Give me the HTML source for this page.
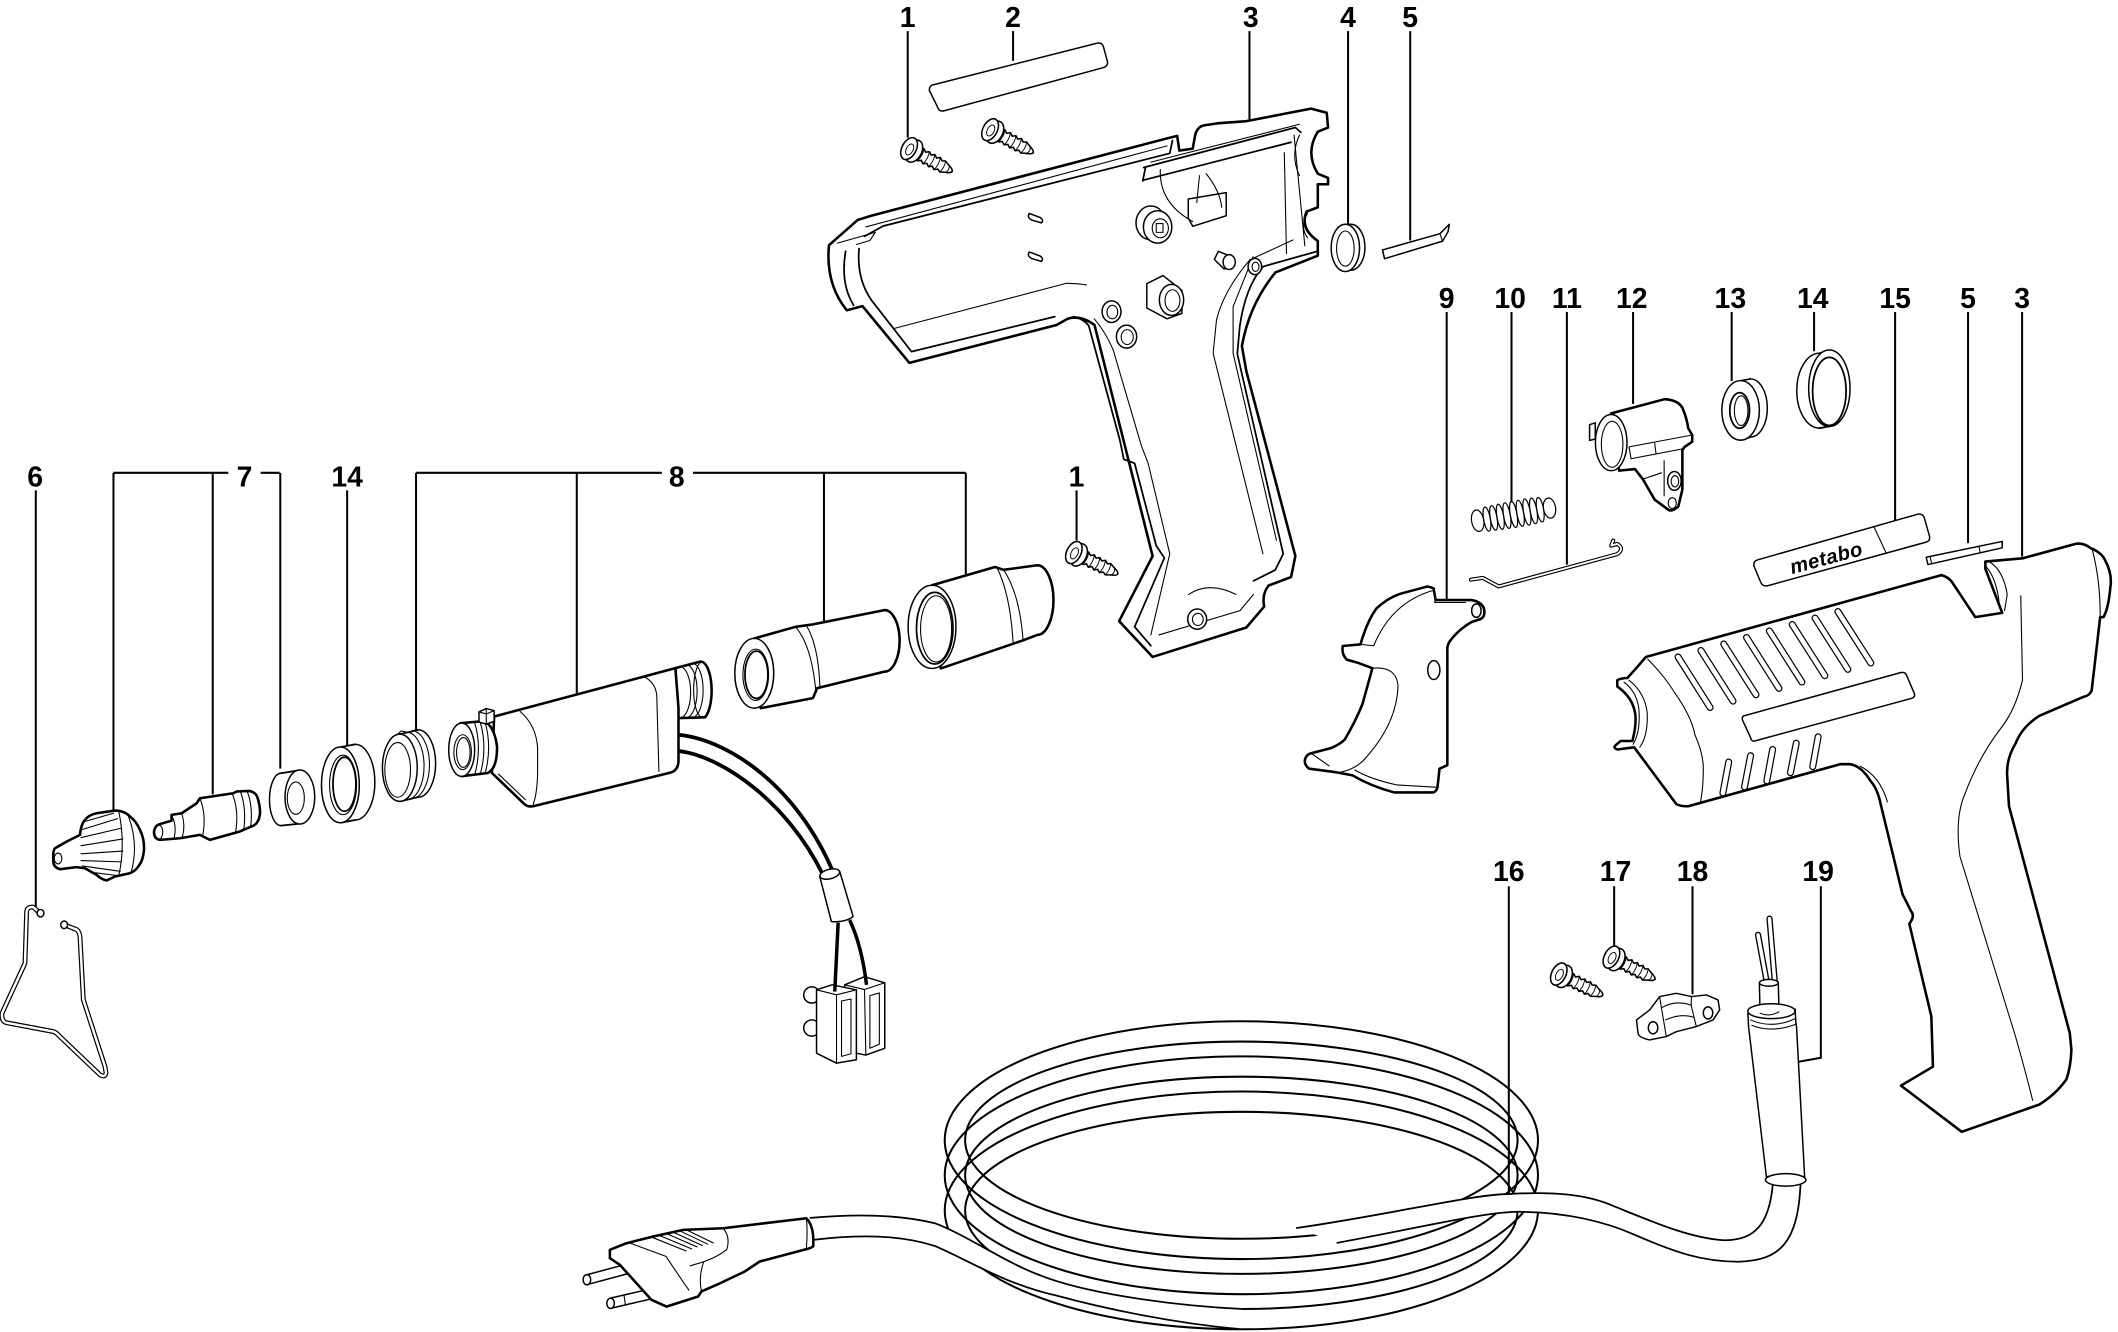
<!DOCTYPE html>
<html><head><meta charset="utf-8"><style>html,body{margin:0;padding:0;background:#fff}svg{display:block}
.k{fill:#fff;stroke:#000;stroke-width:1.9;stroke-linejoin:round;stroke-linecap:round}
.kt{fill:#fff;stroke:#000;stroke-width:1.1;stroke-linejoin:round}
.t{fill:none;stroke:#000;stroke-width:0.8;stroke-linejoin:round;stroke-linecap:round}
.m{fill:none;stroke:#000;stroke-width:1.3;stroke-linejoin:round;stroke-linecap:round}
.n{fill:none;stroke:#000;stroke-width:1.9;stroke-linejoin:round;stroke-linecap:round}
.ld{fill:none;stroke:#000;stroke-width:1.5}
.lb{font-family:"Liberation Sans",Arial,sans-serif;font-weight:bold;font-size:21px;text-anchor:middle;fill:#000}
</style></head><body>
<svg width="2118" height="1332" viewBox="0 0 1568 986" preserveAspectRatio="none" xmlns="http://www.w3.org/2000/svg">
<defs>
<g id="screw">
<path d="M6,-3.4 L8.5,-4.4 L10.5,-3 L12.5,-4.4 L14.5,-3 L16.5,-4.4 L18.5,-3 L20.5,-4.4 L22.5,-3 L24.5,-4 L27.5,-2.6 Q31,-1.6 31.5,0 Q31,1.6 27.5,2.6 L24.5,4 L22.5,3 L20.5,4.4 L18.5,3 L16.5,4.4 L14.5,3 L12.5,4.4 L10.5,3 L8.5,4.4 L6,3.4 Z" fill="#fff" stroke="#000" stroke-width="1"/>
<path d="M8.5,-4.4 Q10,0 8.5,4.4 M12.5,-4.4 Q14,0 12.5,4.4 M16.5,-4.4 Q18,0 16.5,4.4 M20.5,-4.4 Q22,0 20.5,4.4 M24.5,-4 Q26,0 24.5,4 M28,-2.4 Q29.5,0 28,2.4" fill="none" stroke="#000" stroke-width="0.6"/>
<ellipse cx="3.5" cy="0" rx="5" ry="7.6" fill="#fff" stroke="#000" stroke-width="1"/>
<ellipse cx="0" cy="0" rx="4.6" ry="7.6" fill="#fff" stroke="#000" stroke-width="1"/>
<ellipse cx="0.6" cy="0.3" rx="2.2" ry="3.8" fill="none" stroke="#000" stroke-width="0.6"/>
</g>
</defs>

<!-- ===== LABELS ===== -->
<g>
<text class="lb" x="672" y="20">1</text>
<text class="lb" x="750" y="20">2</text>
<text class="lb" x="926" y="20">3</text>
<text class="lb" x="998" y="20">4</text>
<text class="lb" x="1044" y="20">5</text>
<text class="lb" x="26" y="360">6</text>
<text class="lb" x="181" y="360">7</text>
<text class="lb" x="257" y="360">14</text>
<text class="lb" x="501" y="360">8</text>
<text class="lb" x="797" y="360">1</text>
<text class="lb" x="1071" y="228">9</text>
<text class="lb" x="1118" y="228">10</text>
<text class="lb" x="1160" y="228">11</text>
<text class="lb" x="1208" y="228">12</text>
<text class="lb" x="1281" y="228">13</text>
<text class="lb" x="1342" y="228">14</text>
<text class="lb" x="1403" y="228">15</text>
<text class="lb" x="1457" y="228">5</text>
<text class="lb" x="1497" y="228">3</text>
<text class="lb" x="1117" y="652">16</text>
<text class="lb" x="1196" y="652">17</text>
<text class="lb" x="1253" y="652">18</text>
<text class="lb" x="1346" y="652">19</text>
</g>
<g class="ld">
<path d="M672,23 V102"/>
<path d="M750,23 V45"/>
<path d="M925,23 V89"/>
<path d="M998,23 V166"/>
<path d="M1044,23 V178"/>
<path d="M26.5,363 V671"/>
<path d="M84,350 H169 M193,350 H207 M84,350 V601 M157.5,350 V588 M207.5,350 V569"/>
<path d="M257,363 V553"/>
<path d="M308,350 H490 M513,350 H715 M308,350 V541 M427,350 V514 M610,350 V461 M715,350 V425"/>
<path d="M797,363 V400"/>
<path d="M1071,231 V444"/>
<path d="M1119,231 V372"/>
<path d="M1160,231 V418"/>
<path d="M1209,231 V299"/>
<path d="M1282,231 V282"/>
<path d="M1343,231 V260"/>
<path d="M1403,231 V386"/>
<path d="M1457,231 V402"/>
<path d="M1497,231 V412"/>
<path d="M1117,656 V884"/>
<path d="M1195,656 V700"/>
<path d="M1253,656 V736"/>
<path d="M1348,656 V783 L1331,786"/>
</g>

<!-- ===== TOP: part 2 label strip ===== -->
<path class="kt" d="M690,63 L812,32 Q816,31 817,35 L820,46 Q820,49 817,50 L699,82 Q695,83 694,79 L688,67 Q688,64 690,63 Z"/>

<!-- screws top -->
<use href="#screw" transform="translate(673,110) rotate(28) scale(1.15)"/>
<use href="#screw" transform="translate(733,96) rotate(28) scale(1.15)"/>

<!-- ===== TOP HOUSING (part 3 left half) ===== -->
<path class="k" stroke-width="2.2" d="M613.7,181.5 L635,162.8 L645,159.7 L864.9,102.2 L871.5,100.6 L873.1,111.5 L883,110 L884.7,100.6 Q886,94 891.3,92.8 L901.2,91.3 L922.7,89.7 L970.6,80.4 L982.2,83.5 L983.2,94.4 L975.6,97.5 Q966,113 975.6,128.6 L983.2,131.7 L983.2,136.4 L975.6,136.4 L975.6,153.5 L967.3,156.6 Q962,169 975.6,178.4 L975.6,189.3 L944.2,201.7 Q925,225 919.4,256.1 L922.7,274.8 L959,411.6 L955.8,427.2 L939.2,433.4 Q934,440 935.9,449 L922.7,464.5 L853.3,486.3 L828.5,459.8 L853.3,411.6 L810.3,240.6 Q800,233 790.5,235.9 L782.2,240.6 L673.2,268.6 L638.5,226.6 L626.9,229.7 Q611,210 613.7,181.5 Z"/>
<!-- inner wall lines -->
<path class="m" stroke-width="1.6" d="M640,175 L653.9,167.3 L866,113.5 L868,104"/>
<path class="t" d="M641,168 L864,108"/>
<path class="m" d="M626,186 Q622,210 632,226 M636,184 Q634,206 645,222 L674.8,260.3 L780.9,234.4"/>
<path class="t" d="M662.5,243 L789.6,209.7 Q800,210 804.4,210.9"/>
<path class="t" d="M620,180 L648,172 L644,178 L634,181"/>
<path class="m" stroke-width="1.5" d="M794.5,234.4 Q802,236 806,241 L829,325.6 L832,340 L840,343 L856,404 L862,413 L840,464 L852,478"/>
<path class="t" d="M810,236 Q818,245 824.1,259 L845,330 L850,343 L866,410 L852,470"/>
<path class="m" stroke-width="1.5" d="M974.6,186.2 L935.1,197.3 Q922,212 917.8,241.8 L916,262 L950,410 L944,422 L928,430"/>
<path class="t" d="M957.3,177.6 L925.2,192.4 Q906,215 900.6,236.8 L898.1,261.5 L935,410"/>
<path class="t" d="M927.7,190 L912.9,227 L912.9,261.5 L945,400"/>
<path class="t" d="M858,470 L918,452 L928,440 M880,440 Q895,430 915,440"/>
<!-- internal ribs top right -->
<path class="m" d="M846.7,124 L959,94.4 L963,98 M846.7,133.3 L955.8,105.3 M848,124 L846,134"/>
<path class="t" d="M852,120 L962,92 M950.8,113 L952.4,187.7 M958,100 L966,182"/>
<path class="kt" d="M879.7,147.3 L907.8,142.6 L907.8,159.7 L883,167.5 L879.7,161.3 Z"/>
<path class="t" d="M859,125.5 Q858,150.4 883,164 M893,128.6 Q903,141 904.5,153.5 M888,130 L886,150"/>
<path class="t" d="M962,100 Q955,115 962,130 M968,158 Q962,168 968,176"/>
<!-- bosses -->
<ellipse class="kt" cx="852" cy="165" rx="11" ry="12.5"/>
<ellipse class="kt" cx="857" cy="168" rx="10.5" ry="12"/>
<ellipse class="t" cx="859" cy="169" rx="6" ry="7"/>
<rect class="t" x="856" y="165.5" width="5" height="6.5"/>
<path class="kt" d="M849,210 L861,204 L875,215 L875,232 L864,236 L849,228 Z"/>
<ellipse class="kt" cx="867.3" cy="222" rx="9" ry="11.5"/>
<ellipse class="t" cx="868" cy="222.5" rx="5.5" ry="8"/>
<ellipse class="kt" cx="822.9" cy="230.7" rx="7" ry="8"/>
<ellipse class="t" cx="823.5" cy="231" rx="4" ry="5"/>
<ellipse class="kt" cx="834" cy="249.2" rx="7.5" ry="8.5"/>
<ellipse class="t" cx="834.5" cy="249.5" rx="4.5" ry="5.5"/>
<path class="kt" d="M902,186 L911.7,190 L913,198 L906,199 L899,192 Z"/>
<ellipse class="kt" cx="910" cy="194" rx="4.5" ry="5.5"/>
<ellipse class="kt" cx="929" cy="197.3" rx="5" ry="6"/>
<ellipse class="t" cx="929.5" cy="197.5" rx="2.6" ry="3.4"/>
<path class="kt" d="M762,158 L770,161 Q773,163 771,165 L764,163 Q760,161 762,158 Z"/>
<path class="kt" d="M762,186.5 L770,189.5 Q773,191.5 771,193.5 L764,191.5 Q760,189.5 762,186.5 Z"/>
<ellipse class="kt" cx="886.3" cy="458.3" rx="7" ry="7.5"/>
<ellipse class="t" cx="886.8" cy="458.5" rx="4" ry="4.5"/>

<!-- part 4 ring -->
<ellipse class="kt" cx="1000" cy="183" rx="10.5" ry="17"/>
<path fill="#fff" stroke="none" d="M996,166 L1000,166 L1000,200 L996,200.5 Z"/>
<path class="t" d="M996,166 L1000,166 M996,200.5 L1000,200"/>
<ellipse class="kt" cx="996" cy="183.5" rx="10.5" ry="17.5"/>
<ellipse class="t" cx="996" cy="184" rx="6.5" ry="13"/>
<!-- part 5 top -->
<path class="kt" d="M1023.5,185 L1066,173 L1073,166 L1072,171.5 L1068,178.5 L1025,191.5 Z"/>
<path class="t" d="M1023.5,185 L1025,191.5 M1066,173 L1068,178.5"/>

<!-- ===== LEFT: part 6 wire frame ===== -->
<path d="M29.6,676 L24.7,671.5 Q20,671 19.7,675 L18.5,713 L1.5,750 Q1,756 4.5,757 L39.5,763.6 Q42,764.5 44,767 L74,795.6 Q78,798 78.5,794 L77.7,789.5 L61.7,740.1 L59.2,693.3 Q58.5,688 55,687.5 L48.1,684.6" fill="none" stroke="#000" stroke-width="3.6" stroke-linejoin="round" stroke-linecap="round"/>
<path d="M29.6,676 L24.7,671.5 Q20,671 19.7,675 L18.5,713 L1.5,750 Q1,756 4.5,757 L39.5,763.6 Q42,764.5 44,767 L74,795.6 Q78,798 78.5,794 L77.7,789.5 L61.7,740.1 L59.2,693.3 Q58.5,688 55,687.5 L48.1,684.6" fill="none" stroke="#fff" stroke-width="1.8" stroke-linejoin="round" stroke-linecap="round"/>
<ellipse class="kt" cx="30" cy="676" rx="2.5" ry="2.8"/>
<ellipse class="kt" cx="47.5" cy="684.6" rx="2.5" ry="2.8"/>

<!-- part 7a nozzle -->
<path class="k" stroke-width="1.6" d="M40.7,627.9 L49.3,623 L59.2,618 Q60,610 62.9,606.9 Q66,603 71.5,602 L85.1,600 Q92,600 96.2,604.4 Q101,608 103.6,614.3 Q107,621 106.6,629.1 Q106,637 102.4,641.4 Q100,645 96.2,646.4 L85.1,648.8 L78.9,651.8 Q75,651 71.5,647.6 L62.9,642.7 L56.7,641.9 L44.4,643.4 Q39,642 39.5,636.5 Q39,630 40.7,627.9 Z"/>
<ellipse class="t" cx="43" cy="635.5" rx="2.8" ry="4"/>
<path class="t" d="M95,604 Q103,625 97,646 M88,601 Q93,625 88,648"/>
<path class="t" d="M63,608 L84,602 M61,614 L87,606 M60,620 L90,613 M60,626 L91,621 M60,632 L91,630 M60,637 L90,638 M61,641 L89,645 M70,646 L86,648"/>
<!-- part 7b -->
<path class="k" stroke-width="1.6" d="M118.4,610 L127,607.5 L127,603.2 L134.5,602 L145.6,594.6 L148,590.9 L172.7,587.2 L175.2,585.9 L184,585.5 Q189,586 190.5,590 Q193,598 192.4,603 Q191.5,609 188,611 L177.6,615.5 L155.4,621.7 L148,618 L133.2,620.5 L118.4,621.7 Q114,621 114,616 Q114.5,611 118.4,610 Z"/>
<ellipse class="t" cx="117.5" cy="616" rx="3" ry="5.2"/>
<path class="t" d="M127,603.5 Q131,611 129,619.8 M134.5,602 Q137.5,611 135,619.5 M148,591 Q153,603 150,619 M172,587.5 Q177,600 174.5,615.5 M178,586 Q182.5,598 180.5,614 M183,585.8 Q187.5,597 185.5,612.5"/>

<!-- part 7c ring -->
<ellipse class="kt" cx="208" cy="591.8" rx="8.5" ry="19.4"/>
<path fill="#fff" stroke="none" d="M208,572.4 L221.5,570 L221.5,610 L208,611.2 Z"/>
<path class="m" d="M208,572.4 L221.5,570.2 M208,611.2 L221.5,609.8"/>
<ellipse class="kt" cx="222" cy="590" rx="11" ry="20" stroke-width="1.5"/>
<ellipse class="t" cx="219" cy="590.8" rx="6.3" ry="12"/>

<!-- part 14 left ring -->
<ellipse class="kt" cx="263" cy="579" rx="14.5" ry="28" stroke-width="1.5"/>
<path fill="#fff" stroke="none" d="M252,553 L263,551 L263,607 L252,609 Z"/>
<path class="m" d="M252,553 L263,551 M252,609 L263,607"/>
<ellipse class="kt" cx="252" cy="581" rx="14" ry="28" stroke-width="1.6"/>
<ellipse class="t" cx="254" cy="581" rx="10" ry="22"/>
<ellipse class="m" cx="255" cy="580.5" rx="8.5" ry="20"/>

<!-- part 8a threaded ring -->
<ellipse class="kt" cx="309.6" cy="565.2" rx="12.9" ry="24.9" stroke-width="1.5"/>
<path fill="#fff" stroke="none" d="M296,543.4 L309.6,540.3 L309.6,590.1 L296,593.2 Z"/>
<path class="m" d="M296,543.4 L309.6,540.3 M296,593.2 L309.6,590.1"/>
<path class="t" d="M301,542 A12.9,24.9 0 0 1 301,592 M305,541 A12.9,24.9 0 0 1 305,591"/>
<ellipse class="kt" cx="296" cy="568.3" rx="12.9" ry="24.9" stroke-width="1.5"/>
<ellipse class="t" cx="294.4" cy="569.9" rx="9.5" ry="20.2"/>
<path class="t" d="M294,544 L297,541 L301,542"/>

<!-- ===== ELEMENT part 8 ===== -->
<path class="k" stroke-width="1.6" d="M500,494.6 L518.3,489.8 A8,21.5 0 0 1 522,531 L502.3,531.6 Z"/>
<path class="t" d="M504,493.5 A8,19 0 0 1 505,531 M509,492.2 A8,19.5 0 0 1 510,530.5 M513,491 A8,20 0 0 1 515,530"/>
<ellipse class="t" cx="520" cy="510.5" rx="6.5" ry="20.5"/>
<path class="k" stroke-width="1.6" d="M365.8,530.4 L500,494.6 L502.3,524 L502.3,563.6 Q502,570.5 496,572 L394.7,596.8 Q390.5,597.5 388,595 L364.2,572.2 Z"/>
<path class="t" d="M385.1,526.7 Q397,537 398,553.7 L398,573.4 Q397.5,588 394.7,595.5"/>
<path class="t" d="M476.6,500.8 Q485,505 486.2,514.4 L487.8,571"/>
<path class="t" d="M369,573 L389,592"/>
<path class="k" stroke-width="1.6" d="M341,535.3 L358,533.8 Q366,537 368,553 Q368,569 361,572.2 L341.8,574.6 Z"/>
<path class="t" d="M351.4,535 Q357,553 351.4,574 M355.5,534.5 Q361,553 355.5,573.5 M359,534 Q364.5,553 359,573"/>
<ellipse class="kt" cx="341.8" cy="555" rx="9.6" ry="19.7" stroke-width="1.5"/>
<ellipse class="t" cx="342.5" cy="556.8" rx="6.5" ry="12.9"/>
<ellipse class="t" cx="343" cy="557" rx="5" ry="11"/>
<path class="kt" d="M354.6,527 L360,524.5 L365.8,526 L365.8,534 L360,536 L354.6,534.5 Z"/>
<path class="t" d="M360,524.5 L360,536 M354.6,527 L360,528.5 L365.8,526"/>

<!-- wires -->
<path d="M503,544 C540,548 590,582 617,646" fill="none" stroke="#000" stroke-width="2.8"/>
<path d="M503,556 C535,560 583,594 609,647" fill="none" stroke="#000" stroke-width="2.8"/>
<!-- connectors bumps -->
<circle class="kt" cx="601" cy="736.5" r="6"/>
<circle class="kt" cx="601" cy="761" r="6"/>
<!-- right block -->
<path class="kt" d="M625.4,729 L640,723 L655,727.5 L655,776 L641,781 L625.4,778 Z" stroke-width="1.3"/>
<path class="t" d="M640,732.5 L655,727.5 M640,732.5 L641,781 M625.4,729 L640,732.5"/>
<!-- left block -->
<path class="kt" d="M604.5,732.7 L616,729 L634,732.7 L634,784.5 L619.3,787 L604.5,779.6 Z" stroke-width="1.3"/>
<path class="t" d="M604.5,732.7 L619.3,736.4 L634,732.7 M619.3,736.4 L619.3,787"/>
<path class="t" d="M623,741 L630,739.5 L630,780 L623,782 Z"/>
<path class="t" d="M644,737 L651,735 L651,773 L644,776 Z"/>
<!-- wires from ferrule to blocks -->
<path d="M620.5,683 L618,734" fill="none" stroke="#000" stroke-width="2.6"/>
<path d="M629,681 Q638,700 641.5,729" fill="none" stroke="#000" stroke-width="2.6"/>
<!-- ferrule -->
<path class="kt" d="M606.9,648.9 L621.7,645.2 L631.6,678.5 Q626,683 615.5,682.2 Z" stroke-width="1.2"/>
<ellipse class="kt" cx="614.3" cy="647" rx="7.5" ry="3.5" transform="rotate(-14 614.3 647)"/>

<!-- ===== SLEEVES part 8 ===== -->
<path class="k" stroke-width="1.6" d="M558.4,472.6 L589,464 L601.8,462.2 L654.8,451.6 A11.2,22.8 0 0 1 654.8,497.2 L605,509.4 L601.8,516.8 L563.2,524.2 Z"/>
<path class="t" d="M589,464 Q601,478 604,512 M597,463 Q606,478 607,509"/>
<ellipse class="kt" cx="558.4" cy="498.4" rx="14.4" ry="25.8" stroke-width="1.6"/>
<ellipse class="t" cx="559.5" cy="499.5" rx="9.5" ry="19"/>
<ellipse class="m" cx="560" cy="499.5" rx="8.5" ry="17.5"/>

<path class="k" stroke-width="1.6" d="M690,433.2 L736.6,419.7 L743,421.8 L767.9,418.4 A12,25.8 0 0 1 767.9,470 L757.5,474 L696.5,494.8 Z"/>
<path class="t" d="M743,421.8 Q755,440 757.4,474 M738,420 Q748,440 750,476"/>
<ellipse class="kt" cx="690" cy="464" rx="17.7" ry="30.8" stroke-width="1.6"/>
<ellipse class="m" cx="692" cy="465" rx="13.5" ry="26.5"/>
<ellipse class="t" cx="693" cy="465.5" rx="11.5" ry="24.5"/>

<!-- screw middle 1 -->
<use href="#screw" transform="translate(795,409) rotate(26) scale(1.15)"/>

<!-- ===== TRIGGER part 9 ===== -->
<path class="k" stroke-width="1.8" d="M994.1,478.2 L1007.2,477 Q1012,460 1018.9,450.5 Q1028,442 1037.9,439.2 L1056.9,434.1 L1061.3,435.4 L1062.8,444.2 L1089.1,444.2 Q1096,445 1098.5,450 Q1100,456 1096.4,458.1 L1089.1,460.6 Q1080,466 1074.5,473.2 Q1071,477 1071.5,482 L1071.5,566.4 L1065.7,569 L1064.2,582.8 Q1063,587 1059.8,586.6 L1032.1,586.6 Q1015,582 1001.4,574 L988.2,571.5 L969.2,569 Q965,566 966.3,561.4 Q968,558 970.7,557.6 L985.3,553.8 Q992,551 995.5,547.5 Q1003,535 1008.7,521.1 L1016,494.6 L1005.8,490.8 L997,488.3 Q993,484 994.1,478.2 Z"/>
<path class="t" d="M1016,494.6 Q1034,493 1035,508 Q1034,535 1012,560 Q1004,570 990,572"/>
<path class="t" d="M1061,437 Q1030,446 1017,478 L1007.2,477"/>
<path class="t" d="M970.7,557.6 L984,567 M1064.2,582.8 L1034,581 Q1015,577 1003,570"/>
<path class="t" d="M1062.8,444.2 L1062,446 L1085,446"/>
<ellipse class="kt" cx="1061.5" cy="496" rx="4.5" ry="7"/>
<ellipse class="kt" cx="1093" cy="452" rx="3.5" ry="5"/>

<!-- part 10 spring -->
<g transform="translate(1091,386) rotate(-10)" fill="none" stroke="#000" stroke-width="0.9">
<ellipse cx="3" cy="0" rx="4.5" ry="8"/>
<ellipse cx="10" cy="0" rx="2.5" ry="9"/>
<ellipse cx="15" cy="0" rx="2.5" ry="9.2"/>
<ellipse cx="20" cy="0" rx="2.5" ry="9.4"/>
<ellipse cx="25" cy="0" rx="2.5" ry="9.6"/>
<ellipse cx="30" cy="0" rx="2.5" ry="9.8"/>
<ellipse cx="35" cy="0" rx="2.5" ry="9.8"/>
<ellipse cx="40" cy="0" rx="2.5" ry="9.8"/>
<ellipse cx="45" cy="0" rx="2.5" ry="9.6"/>
<ellipse cx="50" cy="0" rx="2.5" ry="9.2"/>
<ellipse cx="57" cy="0" rx="4.5" ry="7.5"/>
</g>
<!-- part 11 wire -->
<path d="M1089,429.1 L1097.8,427.8 L1109.5,434.1 L1197.2,410.2 Q1203,406 1197.2,402.6 L1192.8,403.9 L1194.3,400.1" fill="none" stroke="#000" stroke-width="3" stroke-linejoin="round" stroke-linecap="round"/>
<path d="M1089,429.1 L1097.8,427.8 L1109.5,434.1 L1197.2,410.2 Q1203,406 1197.2,402.6 L1192.8,403.9 L1194.3,400.1" fill="none" stroke="#fff" stroke-width="1.3" stroke-linejoin="round" stroke-linecap="round"/>

<!-- part 12 -->
<path class="kt" d="M1176.8,314.4 L1181,313 L1181,325 L1176.8,326 Z"/>
<path class="k" stroke-width="1.6" d="M1192.8,306 L1232.3,295.5 Q1242,296 1245.5,301.8 Q1249,310 1249.8,317 L1252.8,322 L1252.8,327 L1246.9,331 L1245.5,333.3 L1245.5,362.3 L1242.5,374.9 Q1238,379 1235.2,377.4 L1225,369.9 L1216.2,354.7 L1210.4,347.2 L1198.7,348.4 Z"/>
<path class="t" d="M1206,330.8 L1252.8,322 M1207.5,339.6 L1246.9,332 M1206,330.8 L1207.5,339.6 M1225,328 L1226,336 M1216.2,354.7 L1230,350 M1232,341 L1232,367"/>
<ellipse class="kt" cx="1192.8" cy="327.6" rx="11.7" ry="20.8" stroke-width="1.6"/>
<ellipse class="t" cx="1193.5" cy="328.9" rx="8" ry="17"/>
<ellipse class="kt" cx="1239.6" cy="356" rx="5" ry="7"/>
<ellipse class="t" cx="1240" cy="356.3" rx="2.8" ry="4.2"/>
<ellipse class="t" cx="1238" cy="372.4" rx="3" ry="4"/>

<!-- part 13 ring -->
<ellipse class="kt" cx="1295.9" cy="302" rx="12.5" ry="21.5" stroke-width="1.5"/>
<path fill="#fff" stroke="none" d="M1288.6,281.8 L1295.9,280.5 L1295.9,323.5 L1288.6,325.8 Z"/>
<path class="m" d="M1288.6,281.8 L1295.9,280.5 M1288.6,325.8 L1295.9,323.5"/>
<ellipse class="kt" cx="1288.6" cy="303.8" rx="13.9" ry="22" stroke-width="1.6"/>
<ellipse class="m" cx="1287.9" cy="303.8" rx="7.3" ry="13.2"/>
<ellipse class="t" cx="1289" cy="304" rx="5" ry="11"/>

<!-- part 14 right ring -->
<ellipse class="kt" cx="1347" cy="289.2" rx="16.8" ry="27.7" stroke-width="1.6"/>
<path fill="#fff" stroke="none" d="M1347,261.5 L1354.3,259 L1354.3,315.7 L1347,317 Z"/>
<path class="m" d="M1347,261.5 L1354.3,259.2 M1347,316.9 L1354.3,315.6"/>
<ellipse class="kt" cx="1354.3" cy="287.4" rx="15.3" ry="28.3" stroke-width="1.6"/>
<ellipse class="m" cx="1354.3" cy="289.7" rx="12.4" ry="25.2"/>

<!-- part 15 metabo strip -->
<path class="kt" d="M1301,414.5 L1419.8,380.6 Q1423,380 1424.5,383 L1428.5,397 Q1429,400.5 1426,401.3 L1309,433.5 Q1305,434.5 1303.5,431 L1298.5,419 Q1298,415.5 1301,414.5 Z" stroke-width="1.2"/>
<path class="t" d="M1387.3,389.9 L1396,408.6"/>
<text x="1352" y="418" transform="rotate(-15 1352 413)" font-family="Liberation Sans, Arial, sans-serif" font-weight="bold" font-style="italic" font-size="15" text-anchor="middle" fill="#000" letter-spacing="0.3">metabo</text>
<!-- part 5 right -->
<path class="kt" d="M1426,412.5 L1482.3,400.8 L1482.3,405.5 L1427.3,417.9 Z"/>
<path class="t" d="M1465,404.5 L1466,409 M1429,412 L1430,417.5"/>

<!-- ===== RIGHT FRONT HOUSING (part 3) ===== -->
<path class="k" stroke-width="2.2" d="M1197.3,503.5 Q1200,502 1204.8,501.9 Q1212,494 1218.5,486.3 L1437.3,425.7 Q1442,427 1444.8,430.4 L1462.3,456.8 L1482.3,453.7 L1469.8,421 L1469.8,415.7 L1497.3,413.3 L1537.3,402.4 Q1543,402 1547.3,405.5 Q1556,409 1558.5,414.8 Q1564,425 1562.3,435 Q1561,450 1557.3,456.8 L1554.8,456.8 L1548.5,511.2 Q1547,515 1542.3,515.9 L1509.8,529.9 Q1497,538 1492.3,550.1 Q1485,562 1486,575 L1487.3,596.8 L1532.3,764.7 L1533.5,777.1 Q1533,790 1529.8,799 Q1522,810 1509.8,817.6 L1452.3,837.8 L1407.3,803.6 L1431,789.6 L1429.8,752.3 L1413.5,683.8 Q1418,678 1414.8,674.5 L1408.5,662.1 L1392.3,595.2 Q1390,584 1384.8,578.1 Q1378,567 1369.8,565.7 L1362.3,565.7 L1249.8,596.8 Q1244,597 1241,595.2 L1209.8,553.2 L1197.3,554.8 Q1194,553.5 1196,551.7 L1199.8,548.5 L1208.5,548.5 C1212,535 1214,520 1197.3,508.1 Z"/>
<path class="t" d="M1496,441 L1497.3,503.5 Q1492,525 1482.3,537.7 Q1465,560 1454.8,587.4 Q1447,605 1451,634 L1492.3,767.8 Q1500,795 1504.8,814.5"/>
<path class="t" d="M1219.8,487.9 Q1232,500 1239.8,512.8 Q1252,530 1254.8,543.9 Q1261,558 1261,568.8 Q1261,585 1258.5,595.2"/>
<path class="t" d="M1202.3,505 Q1213,513 1213.5,528 Q1214,543 1209,551 M1206,503.5 Q1218,513 1219.5,528 Q1220,545 1214,553"/>
<path class="t" d="M1377.3,567.2 Q1392,575 1397.3,593.6"/>
<path class="t" d="M1470,419 Q1478,428 1480,446 M1473,416 Q1483,422 1486,440 L1484,452"/>
<path class="t" d="M1549,407 Q1555,430 1554.8,456.8"/>
<!-- slots -->
<g fill="none" stroke-linecap="round">
<g stroke="#000" stroke-width="5.2">
<path d="M1242.3,486.3 L1266,523.7"/><path d="M1259.2,481.5 L1283,519"/><path d="M1276.1,476.7 L1300,514.3"/><path d="M1293,471.9 L1317,509.6"/><path d="M1309.9,467.1 L1334,504.9"/><path d="M1326.8,462.3 L1351,500.2"/><path d="M1343.7,457.5 L1368,495.5"/><path d="M1360.6,452.7 L1385,490.8"/>
<path d="M1279.8,564.1 L1275.5,587"/><path d="M1296,559.4 L1291.5,582.5"/><path d="M1312.3,554.8 L1308,578"/><path d="M1329.8,550.1 L1325.5,572"/><path d="M1346,545.4 L1342,567.5"/>
</g>
<g stroke="#fff" stroke-width="3.4">
<path d="M1242.3,486.3 L1266,523.7"/><path d="M1259.2,481.5 L1283,519"/><path d="M1276.1,476.7 L1300,514.3"/><path d="M1293,471.9 L1317,509.6"/><path d="M1309.9,467.1 L1334,504.9"/><path d="M1326.8,462.3 L1351,500.2"/><path d="M1343.7,457.5 L1368,495.5"/><path d="M1360.6,452.7 L1385,490.8"/>
<path d="M1279.8,564.1 L1275.5,587"/><path d="M1296,559.4 L1291.5,582.5"/><path d="M1312.3,554.8 L1308,578"/><path d="M1329.8,550.1 L1325.5,572"/><path d="M1346,545.4 L1342,567.5"/>
</g>
</g>
<path class="kt" d="M1291,529.9 L1407,497.9 Q1410.5,497 1411.5,500 L1417.3,513.5 Q1418,516 1415,517 L1299,548.5 Q1296.5,549 1296,546 L1290,533 Q1289.5,530.5 1291,529.9 Z"/>

<!-- ===== CORD part 16 ===== -->
<g fill="none" stroke="#000" stroke-width="1.5">
<ellipse cx="919" cy="844" rx="219.6" ry="88"/>
<ellipse cx="919" cy="844" rx="204.5" ry="73"/>
<ellipse cx="919" cy="870" rx="219.6" ry="88"/>
<ellipse cx="919" cy="870" rx="204.5" ry="73"/>
<ellipse cx="919" cy="896" rx="219.6" ry="88"/>
<ellipse cx="919" cy="896" rx="204.5" ry="73"/>
</g>
<!-- plug cord -->
<path fill="#fff" stroke="none" d="M600,901.5 C640,898 670,900 692.5,905.6 C715,914 745,935 770,944 C800,956 860,966 920,969 L919,984 C865,979 815,968 782,959 C745,951 715,932 692.5,922.5 C670,915 640,913 602,917.8 Z"/>
<path class="m" stroke-width="1.5" d="M600,901.5 C640,898 670,900 692.5,905.6 C715,914 745,935 770,944 C800,956 860,966 920,969"/>
<path class="m" stroke-width="1.5" d="M602,917.8 C640,913 670,915 692.5,922.5 C715,932 745,951 782,959 C815,968 865,979 919,984"/>
<!-- crossing cord to 19 -->
<path fill="#fff" stroke="none" d="M960,909 C1030,899 1090,884 1118,883.8 C1150,882 1175,884 1195,893 C1225,905 1250,916 1275,918 C1300,919 1310,905 1312.5,876 L1333,876 C1331,920 1318,933 1287,934 C1260,934 1240,927 1210,914 C1190,905 1160,897 1124,897 C1100,897 1050,909 990,920 Z"/>
<path class="m" stroke-width="1.5" d="M960,909 C1030,899 1090,884 1118,883.8 C1150,882 1175,884 1195,893 C1225,905 1250,916 1275,918 C1300,919 1310,905 1312.5,876"/>
<path class="m" stroke-width="1.5" d="M990,920 C1050,909 1100,897 1124,897 C1160,897 1190,905 1210,914 C1240,927 1260,934 1287,934 C1318,933 1331,920 1333,876"/>

<!-- plug -->
<path class="kt" d="M466.3,935.1 L434.2,943.7 Q431,947 434.5,951 L466,942.5 Z" stroke-width="1.4"/>
<ellipse class="kt" cx="434.5" cy="947.3" rx="2.8" ry="3.8"/>
<path class="kt" d="M494.7,951.1 L451.5,961 Q448,965 452,968.5 L495,958.5 Z" stroke-width="1.4"/>
<ellipse class="kt" cx="452" cy="964.8" rx="2.8" ry="3.8"/>
<path class="t" d="M462,959 L463,966"/>
<path class="k" stroke-width="1.5" d="M451.5,925.2 L463.8,920.3 L483.6,915.3 L505.8,910.4 L535.4,909.2 L597,901.8 Q603,908 602,922.7 L599.5,924 L562.5,933.8 L551.4,941.2 L530.5,951.1 L519.3,956 L516.9,959.7 L493.4,967.2 L482.3,962.2 L458.9,936.3 L451.5,931.4 Z"/>
<path class="t" d="M597,901.8 Q598,912 597,923.5 M535.4,909.2 Q541,916 538,925 Q532,930 521,934 L511,937 M466,920 L493,930 Q503,945 510,955 M521,934 Q517,945 519.3,956"/>
<path class="t" d="M483,916 L508,926 M488,914.5 L512,924.5 M493,913 L516,923 M498,912 L520,922 M503,911 L524,921 M508,910.3 L528,920"/>

<!-- part 19 end -->
<path d="M1301.5,692 L1307.7,725.4 M1310,680 L1313.8,725.4" fill="none" stroke="#000" stroke-width="4.6" stroke-linecap="round"/>
<path d="M1301.5,692 L1307.7,725.4 M1310,680 L1313.8,725.4" fill="none" stroke="#fff" stroke-width="2.6" stroke-linecap="round"/>
<path class="kt" d="M1302.5,728 L1316.5,727 L1317,748 L1303,749 Z"/>
<ellipse class="kt" cx="1309.5" cy="727.5" rx="7" ry="2.5"/>
<path class="kt" d="M1294,750 L1329,747 L1329.5,757 L1330,760 L1336,871 L1307.7,871 L1294.5,760 Z" stroke-width="1.4"/>
<ellipse class="kt" cx="1311.4" cy="748.5" rx="17.5" ry="5.5" stroke-width="1.4"/>
<path class="t" d="M1296,755 Q1312,762 1329,754 M1297,759 Q1312,765 1330,758 M1303,750 Q1310,753 1317,749"/>
<ellipse class="kt" cx="1322" cy="873.4" rx="15" ry="4.6" stroke-width="1.3"/>

<!-- part 17 screws -->
<use href="#screw" transform="translate(1154,721) rotate(26) scale(1.15)"/>
<use href="#screw" transform="translate(1193,708.5) rotate(27) scale(1.15)"/>

<!-- part 18 clamp -->
<path class="kt" d="M1211.5,755 L1221.3,747.6 L1228.7,737.7 L1241,735.3 L1252.2,737.7 L1263.3,736.5 L1271.9,740.2 L1273.1,747.6 L1268.2,755 L1255.8,759.9 L1241,763.7 L1233.6,767.3 L1221.3,769.8 Q1213,768 1212.7,764.9 Z" stroke-width="1.4"/>
<path class="t" d="M1228.7,737.7 L1230,746 Q1240,740 1252,744 L1252.2,737.7 M1230,746 L1233.6,767.3 M1252,744 L1255.8,759.9 M1233,755 Q1244,750 1254,753"/>
<ellipse class="kt" cx="1223.8" cy="760.8" rx="3.5" ry="4.5"/>
<ellipse class="kt" cx="1264.5" cy="749.8" rx="3.5" ry="4.5"/>
</svg>
</body></html>
